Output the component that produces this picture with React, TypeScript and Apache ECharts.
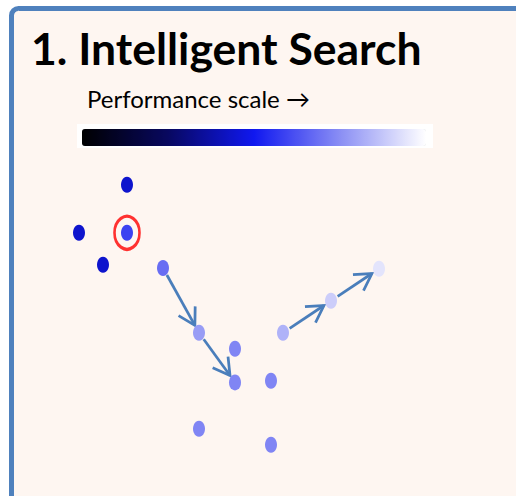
import React, { useEffect, useRef } from "react";
import * as echarts from "echarts";

// Search-space positions (grid units) and performance of each evaluated point
const dotX = [10, 6, 10, 8, 13, 16, 19, 19, 22, 23, 27, 31, 16, 22];
const dotY = [11.05, 14.05, 14.05, 16.05, 16.25, 20.3, 21.3, 23.4, 23.3, 20.3, 18.3, 16.3, 26.3, 27.3];
const perf = [44, 44, 59, 44, 68, 78, 73, 73, 73, 83, 89, 94, 73, 73];
// Search steps (index of point -> index of point)
const arrowFrom = [4, 5, 9, 10];
const arrowTo = [5, 7, 10, 11];
// Highlighted (circled) point
const highlighted = [2];

const titleText = "1. Intelligent Search";
const scaleLabel = "Performance scale \u2192";
const scaleColors = ["#000000", "#080860", "#1018F0", "#8A8EF4", "#FFFFFF"];

export default function App() {
  const ref = useRef<HTMLDivElement>(null);
  useEffect(() => {
    if (!ref.current) return;
    const chart = echarts.init(ref.current, undefined, { renderer: "svg" });
    const dots = dotX.map((x, i) => [x, dotY[i], perf[i]]);
    const arrows = arrowFrom.map((f, i) => [dotX[f], dotY[f], dotX[arrowTo[i]], dotY[arrowTo[i]]]);
    const rings = highlighted.map((i) => [dotX[i], dotY[i]]);
    chart.setOption({
      animation: false,
      backgroundColor: "#ffffff",
      graphic: [
        {
          type: "rect",
          z: -10,
          shape: { x: 11.5, y: 8.5, width: 700, height: 700, r: 7 },
          style: { fill: "#FEF6F1", stroke: "#4F81BD", lineWidth: 5 },
        },
      ],
      title: [
        {
          text: titleText,
          left: 31,
          top: 25,
          padding: 0,
          textStyle: { fontFamily: "Lato", fontWeight: "bold", fontSize: 44.5, color: "#000" },
        },
        {
          text: scaleLabel,
          left: 87,
          top: 86,
          padding: 0,
          textStyle: { fontFamily: "Lato", fontWeight: "normal", fontSize: 24, color: "#000" },
        },
      ],
      grid: { left: 7, right: 5, top: 8, bottom: 8 },
      xAxis: { type: "value", min: 0, max: 42, show: false },
      yAxis: { type: "value", min: 0, max: 30, inverse: true, show: false },
      visualMap: {
        type: "continuous",
        seriesIndex: 0,
        dimension: 2,
        min: 0,
        max: 100,
        orient: "horizontal",
        left: 77,
        top: 124,
        itemWidth: 17,
        itemHeight: 344,
        calculable: false,
        hoverLink: false,
        backgroundColor: "#ffffff",
        padding: [5, 7, 2, 5],
        inRange: { color: scaleColors },
      },
      series: [
        {
          type: "scatter",
          data: dots,
          symbol: "circle",
          symbolSize: [12, 16],
          itemStyle: { opacity: 1 },
          z: 3,
        },
        {
          type: "scatter",
          data: rings,
          symbol: "circle",
          symbolSize: [25, 33],
          itemStyle: { color: "rgba(0,0,0,0)", borderColor: "#FF0000", borderWidth: 3 },
          z: 4,
        },
        {
          type: "custom",
          data: arrows,
          encode: { x: [0, 2], y: [1, 3] },
          z: 2,
          renderItem: (params: any, api: any) => {
            const p0 = api.coord([api.value(0), api.value(1)]);
            const p1 = api.coord([api.value(2), api.value(3)]);
            const dx = p1[0] - p0[0];
            const dy = p1[1] - p0[1];
            const len = Math.sqrt(dx * dx + dy * dy);
            const ux = dx / len;
            const uy = dy / len;
            const s = [p0[0] + ux * 8, p0[1] + uy * 8];
            const t = [p1[0] - ux * 8.5, p1[1] - uy * 8.5];
            const ang = Math.atan2(-uy, -ux);
            const L = 19;
            const a1 = ang + Math.PI / 6;
            const a2 = ang - Math.PI / 6;
            const h1 = [t[0] + L * Math.cos(a1), t[1] + L * Math.sin(a1)];
            const h2 = [t[0] + L * Math.cos(a2), t[1] + L * Math.sin(a2)];
            const style = { stroke: "#4A7EBB", lineWidth: 2.75, fill: "none" };
            return {
              type: "group",
              children: [
                { type: "line", shape: { x1: s[0], y1: s[1], x2: t[0], y2: t[1] }, style },
                { type: "polyline", shape: { points: [h1, t, h2] }, style },
              ],
            };
          },
        },
      ],
    });
    return () => chart.dispose();
  }, []);
  return (
    <div
      ref={ref}
      style={{ position: "absolute", left: 0, top: 0, width: 516, height: 496 }}
    />
  );
}
